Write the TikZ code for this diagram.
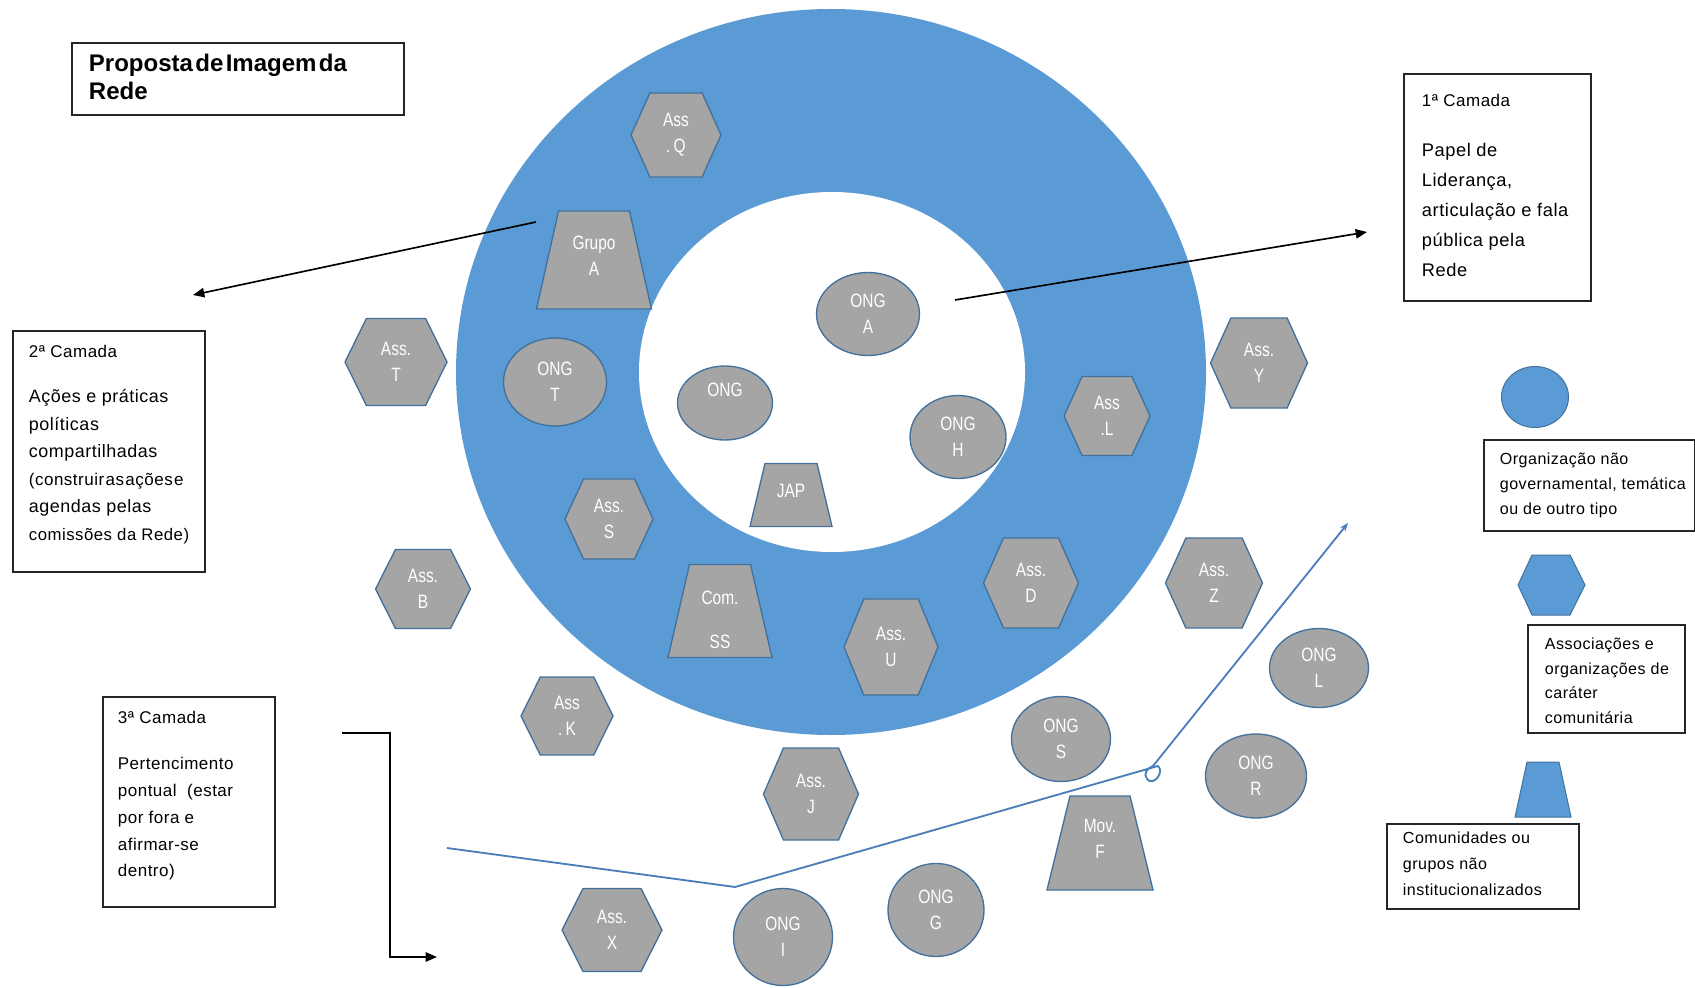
\documentclass[tikz,border=0pt]{standalone}
\usepackage{fontspec}
\setmainfont{Liberation Sans}
\newfontfamily\boxfont[LetterSpace=3]{Liberation Sans}
\newfontfamily\tagfont[FakeStretch=0.8]{Liberation Sans}
\usepackage{tikz}
\usetikzlibrary{arrows.meta,shapes.geometric}

\definecolor{ringblue}{HTML}{5B9BD5}
\definecolor{edgeblue}{HTML}{41719C}
\definecolor{orggray}{HTML}{A5A5A5}
\definecolor{lineblue}{HTML}{4A7EBB}

\begin{document}
\begin{tikzpicture}[
  x=0.3mm, y=-0.3mm,
  >={Triangle[length=3.4mm,width=2.8mm]},
  tag/.style={text=white, align=center, inner sep=0pt,
    font=\tagfont\fontsize{16.5}{22}\selectfont},
  shp/.style={fill=orggray, draw=edgeblue, line width=0.4mm},
  ong/.style args={#1/#2}{shp, tag, ellipse,
    minimum width=#1*0.3mm, minimum height=#2*0.3mm},
  legend/.style={fill=ringblue, draw=edgeblue, line width=0.3mm},
  txtbox/.style={draw=black!85, line width=0.55mm, anchor=north west, inner xsep=0pt},
  pointer/.style={->, draw=black, line width=0.5mm},
  flowline/.style={draw=lineblue, line width=0.55mm, line join=round}
]

\useasboundingbox (0,0) rectangle (1695,988);

% ---- the ring ----
\fill[ringblue] (831,372) ellipse [x radius=112.5mm, y radius=108.9mm];
\fill[white] (832,372) ellipse [x radius=57.9mm, y radius=54mm];

% ---- associations (hexagons) ----
\foreach \nm/\x/\y/\w/\h/\txt in {
  assQ/676/135/90/84/{Ass\\.\,Q},
  assT/396/362/102/87/{Ass.\\T},
  assY/1259/363/97/90/{Ass.\\Y},
  assL/1107/416/86/79/{Ass\\.L},
  assS/609/519/88/80/{Ass.\\S},
  assB/423/589/95/79/{Ass.\\B},
  assD/1031/583/95/90/{Ass.\\D},
  assZ/1214/583/97/90/{Ass.\\Z},
  assU/891/647/94/96/{Ass.\\U},
  assK/567/716/92/78/{Ass\\.\,K},
  assJ/811/794/95/92/{Ass.\\J},
  assX/612/930/100/83/{Ass.\\X}}
{
  \filldraw[shp] (\x-0.5*\w,\y) -- (\x-0.29*\w,\y-0.5*\h) -- (\x+0.29*\w,\y-0.5*\h)
    -- (\x+0.5*\w,\y) -- (\x+0.29*\w,\y+0.5*\h) -- (\x-0.29*\w,\y+0.5*\h) -- cycle;
  \node[tag] (\nm) at (\x,\y) {\txt};
}

% ---- groups (trapezia) ----
\foreach \nm/\x/\y/\tw/\bw/\h/\dy/\txt in {
  grpA/594/260/71/115/98/-4/{Grupo\\A},
  jap/791/495/52/82/63/-4/{JAP},
  comSS/720/611/61/104/93/9/{Com.\\[16pt]SS},
  movF/1100/843/60/106/94/-4/{Mov.\\F}}
{
  \filldraw[shp] (\x-0.5*\tw,\y-0.5*\h) -- (\x+0.5*\tw,\y-0.5*\h)
    -- (\x+0.5*\bw,\y+0.5*\h) -- (\x-0.5*\bw,\y+0.5*\h) -- cycle;
  \node[tag] (\nm) at (\x,\y+\dy) {\txt};
}

% ---- NGOs (ellipses) ----
\node[ong=103/83] (ongA) at (868,314) {ONG\\A};
\node[ong=103/88] (ongT) at (555,382) {ONG\\T};
\node[ong=95/74] (ongX) at (725,403) {ONG\\\mbox{}};
\node[ong=96/83] (ongH) at (958,437) {ONG\\H};
\node[ong=99/79] (ongL) at (1319,668) {ONG\\L};
\node[ong=99/85] (ongS) at (1061,739) {ONG\\S};
\node[ong=101/84] (ongR) at (1256,776) {ONG\\R};
\node[ong=96/93] (ongG) at (936,910) {ONG\\G};
\node[ong=99/97] (ongI) at (783,937) {ONG\\I};

% ---- legend ----
\node[ellipse, legend, minimum width=20.1mm, minimum height=18.3mm] (lgOng) at (1535,397) {};
\filldraw[legend] (1518,585) -- (1532,555) -- (1570,555) -- (1585,585)
  -- (1570,615) -- (1532,615) -- cycle;
\filldraw[legend] (1527,762) -- (1559,762) -- (1571,817) -- (1515,817) -- cycle;

\node[txtbox, inner ysep=3.9mm] (lgOngTxt) at (1483,439)
  {\parbox[t][19.5mm][t]{63.3mm}{\raggedright\leftskip=4.8mm
   \boxfont\fontsize{13.7}{21.3}\selectfont
   Organização não\\governamental, temática\\ou de outro tipo}};
\node[txtbox, inner ysep=3.9mm] (lgAssTxt) at (1527,624)
  {\parbox[t][24.6mm][t]{47.1mm}{\raggedright\leftskip=5.1mm
   \boxfont\fontsize{13.7}{21.1}\selectfont
   Associações e\\organizações de\\caráter\\comunitária}};
\node[txtbox, inner ysep=2.4mm] (lgComTxt) at (1386,823)
  {\parbox[t][20.7mm][t]{57.6mm}{\raggedright\leftskip=4.8mm
   \boxfont\fontsize{13.7}{22.2}\selectfont
   Comunidades ou\\grupos não\\institucionalizados}};

% ---- title and layer boxes ----
\node[txtbox, inner ysep=3.3mm] (title) at (71,42)
  {\parbox[t][15mm][t]{99.6mm}{\raggedright\leftskip=5.1mm
   \fontsize{20.5}{23.9}\selectfont\bfseries
   {\spaceskip=0.1em Proposta de Imagem da}\\Rede}};
\node[txtbox, inner ysep=6mm] (camada1) at (1403,73)
  {\parbox[t][56.1mm][t]{56.1mm}{\raggedright\leftskip=5.4mm
   \boxfont\fontsize{14.5}{25.6}\selectfont
   1ª Camada\\[6mm]
   \fontsize{15.6}{25.6}\selectfont
   Papel de\\Liderança,\\articulação e fala\\pública pela\\Rede}};
\node[txtbox, inner ysep=4.2mm] (camada2) at (12,330)
  {\parbox[t][63.9mm][t]{57.6mm}{\raggedright\leftskip=4.8mm
   \boxfont\fontsize{14.5}{23.5}\selectfont
   2ª Camada\\[5.4mm]
   \fontsize{15.3}{23.5}\selectfont
   Ações e práticas\\políticas\\compartilhadas\\
   {\fontsize{14.5}{23.5}\selectfont\spaceskip=0.08em (construir as ações e}\\
   agendas pelas\\{\fontsize{14.3}{23.5}\selectfont comissões da Rede)}}};
\node[txtbox, inner ysep=4.2mm] (camada3) at (102,696)
  {\parbox[t][54.6mm][t]{51.6mm}{\raggedright\leftskip=4.5mm
   \boxfont\fontsize{14.5}{23}\selectfont
   3ª Camada\\[5.7mm]
   Pertencimento\\pontual\ \ (estar\\por fora e\\afirmar-se\\dentro)}};

% ---- pointers ----
\coordinate (fromRing) at (536,222);
\coordinate (toCam2) at (193,295);
\coordinate (fromCore) at (955,300);
\coordinate (toCam1) at (1367,232);
\coordinate (elbowIn) at (342,733);
\coordinate (elbowOut) at (437,957);
\draw[pointer] (fromRing) -- (toCam2);
\draw[pointer] (fromCore) -- (toCam1);
\draw[pointer] (elbowIn) -- ++(48,0) |- (elbowOut);

% ---- boundary line ----
\coordinate (lnA) at (447,848);
\coordinate (lnB) at (735,887);
\coordinate (lnC) at (1158,766);
\coordinate (lnD) at (1348,523);
\draw[flowline, -{Stealth[length=2.6mm,width=2mm]}] (lnA) -- (lnB) -- (lnC)
  .. controls (1165,772) and (1153,787) .. (1147,779)
  .. controls (1143,774) and (1147,768) .. (1153,766) -- (lnD);

\end{tikzpicture}
\end{document}
